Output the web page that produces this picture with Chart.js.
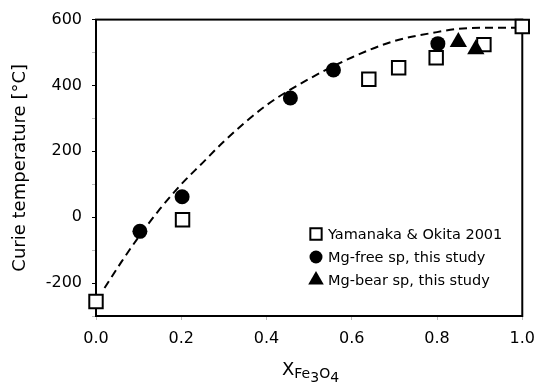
<!DOCTYPE html>
<html>
<head>
<meta charset="utf-8">
<title>Curie temperature</title>
<script src="https://cdn.jsdelivr.net/npm/chart.js@4/dist/chart.umd.min.js"></script>
<style>
    html, body { margin: 0; padding: 0; background: #fff; }
    #wrap { width: 544px; height: 389px; position: relative; }
</style>
</head>
<body>
<div id="wrap"><canvas id="curieChart"></canvas></div>
<script>
// values
var yamanakaX = [0.0, 0.203, 0.64, 0.71, 0.798, 0.91, 1.0];
var yamanakaY = [-256, -8, 419, 454, 484, 524, 579];

var mgFreeX = [0.103, 0.202, 0.456, 0.557, 0.802];
var mgFreeY = [-43, 62, 362, 447, 527];

var mgBearX = [0.85, 0.891];
var mgBearY = [532, 510];

// dashed trend curve
var curveX = [0.02, 0.06, 0.1, 0.15, 0.2, 0.25, 0.3, 0.4, 0.5, 0.6, 0.7, 0.8, 0.85, 0.9, 1.0];
var curveY = [-215, -135, -60, 25, 100, 165, 230, 340, 420, 485, 535, 562, 572, 575, 575];

var legendLabels = ['Yamanaka & Okita 2001', 'Mg-free sp, this study', 'Mg-bear sp, this study'];
var yTitle = 'Curie temperature [°C]';

function toPoints(xs, ys) {
    let pts = [];
    for (let i = 0; i < xs.length; i++) {
        pts.push({x: xs[i], y: ys[i]});
    }
    return pts;
}

var CurieChart = {
    font: '"DejaVu Sans", Verdana, sans-serif',

    drawMarker: function (ctx, shape, x, y, r) {
        ctx.save();
        ctx.lineWidth = 2;
        ctx.strokeStyle = '#000';
        ctx.fillStyle = '#000';
        ctx.beginPath();
        if (shape === 'rect') {
            let s = Math.SQRT1_2 * r;
            ctx.rect(x - s, y - s, 2 * s, 2 * s);
            ctx.fillStyle = '#fff';
            ctx.fill();
            ctx.stroke();
        } else if (shape === 'circle') {
            ctx.arc(x, y, r, 0, Math.PI * 2);
            ctx.fill();
        } else {
            ctx.moveTo(x, y - r);
            ctx.lineTo(x + r * 0.866, y + r / 2);
            ctx.lineTo(x - r * 0.866, y + r / 2);
            ctx.closePath();
            ctx.fill();
        }
        ctx.restore();
    },

    framePlugin: {
        id: 'frame',
        beforeDatasetsDraw: function (chart) {
            let a = chart.chartArea;
            let ctx = chart.ctx;
            ctx.save();
            ctx.strokeStyle = '#000';
            ctx.lineWidth = 2;
            ctx.strokeRect(a.left, a.top, a.right - a.left, a.bottom - a.top);
            ctx.restore();
        },
        afterDraw: function (chart) {
            let ctx = chart.ctx;
            let shapes = ['rect', 'circle', 'triangle'];
            let sizes = [8, 6.5, 9];
            let rows = [234, 257, 280];

            // legend inside the plot
            ctx.save();
            ctx.font = '14.5px ' + CurieChart.font;
            ctx.fillStyle = '#000';
            ctx.textBaseline = 'middle';
            ctx.textAlign = 'left';
            for (let i = 0; i < legendLabels.length; i++) {
                CurieChart.drawMarker(ctx, shapes[i], 316, rows[i], sizes[i]);
                ctx.fillText(legendLabels[i], 328, rows[i] + 1);
            }

            // x axis title with subscript
            let x = 282;
            ctx.textBaseline = 'alphabetic';
            ctx.font = '18px ' + CurieChart.font;
            ctx.fillText('X', x, 375);
            x += ctx.measureText('X').width;
            let parts = [['Fe', 378], ['3', 382], ['O', 378], ['4', 382]];
            ctx.font = '14px ' + CurieChart.font;
            for (let i = 0; i < parts.length; i++) {
                ctx.fillText(parts[i][0], x, parts[i][1]);
                x += ctx.measureText(parts[i][0]).width;
            }
            ctx.restore();
        }
    },

    init: function () {
        Chart.defaults.color = '#000';
        Chart.defaults.font.family = CurieChart.font;

        let data = {
            datasets: [{
                label: legendLabels[2],
                data: toPoints(mgBearX, mgBearY),
                pointStyle: 'triangle',
                pointRadius: 10,
                backgroundColor: '#000',
                borderColor: '#000',
                borderWidth: 0,
                clip: false,
                order: 0
            }, {
                label: legendLabels[1],
                data: toPoints(mgFreeX, mgFreeY),
                pointStyle: 'circle',
                pointRadius: 7.5,
                backgroundColor: '#000',
                borderColor: '#000',
                borderWidth: 0,
                clip: false,
                order: 1
            }, {
                label: legendLabels[0],
                data: toPoints(yamanakaX, yamanakaY),
                pointStyle: 'rect',
                pointRadius: 9.5,
                backgroundColor: '#fff',
                borderColor: '#000',
                borderWidth: 2,
                clip: false,
                order: 2
            }, {
                label: 'trend',
                data: toPoints(curveX, curveY),
                showLine: true,
                pointRadius: 0,
                borderColor: '#000',
                borderWidth: 2,
                borderDash: [8, 5],
                cubicInterpolationMode: 'monotone',
                fill: false,
                order: 3
            }]
        };

        let options = {
            responsive: true,
            maintainAspectRatio: false,
            animation: false,
            layout: {padding: {top: 16, right: 15, left: 0, bottom: 0}},
            plugins: {
                legend: {display: false},
                tooltip: {enabled: false}
            },
            scales: {
                x: {
                    type: 'linear',
                    min: 0,
                    max: 1,
                    afterFit: function (scale) { scale.height = 73; },
                    border: {display: false},
                    grid: {
                        drawOnChartArea: false,
                        drawTicks: true,
                        tickLength: 4,
                        color: '#bbb'
                    },
                    ticks: {
                        stepSize: 0.2,
                        padding: 9,
                        font: {size: 16},
                        maxRotation: 0,
                        callback: function (v) { return Number(v).toFixed(1); }
                    }
                },
                y: {
                    min: -300,
                    max: 600,
                    afterFit: function (scale) { scale.width = 96; },
                    border: {display: false},
                    grid: {
                        drawOnChartArea: false,
                        drawTicks: true,
                        tickLength: 4,
                        color: function (c) {
                            return c.tick && c.tick.value % 200 === 0 ? '#000' : '#bbb';
                        }
                    },
                    ticks: {
                        stepSize: 100,
                        padding: 10,
                        font: {size: 16},
                        callback: function (v) { return v % 200 === 0 ? String(v) : ''; }
                    },
                    title: {
                        display: true,
                        text: yTitle,
                        font: {size: 18},
                        padding: {top: 10, bottom: 0}
                    }
                }
            }
        };

        new Chart(document.getElementById('curieChart'), {
            type: 'scatter',
            data: data,
            options: options,
            plugins: [CurieChart.framePlugin]
        });
    }
};

CurieChart.init();
</script>
</body>
</html>
